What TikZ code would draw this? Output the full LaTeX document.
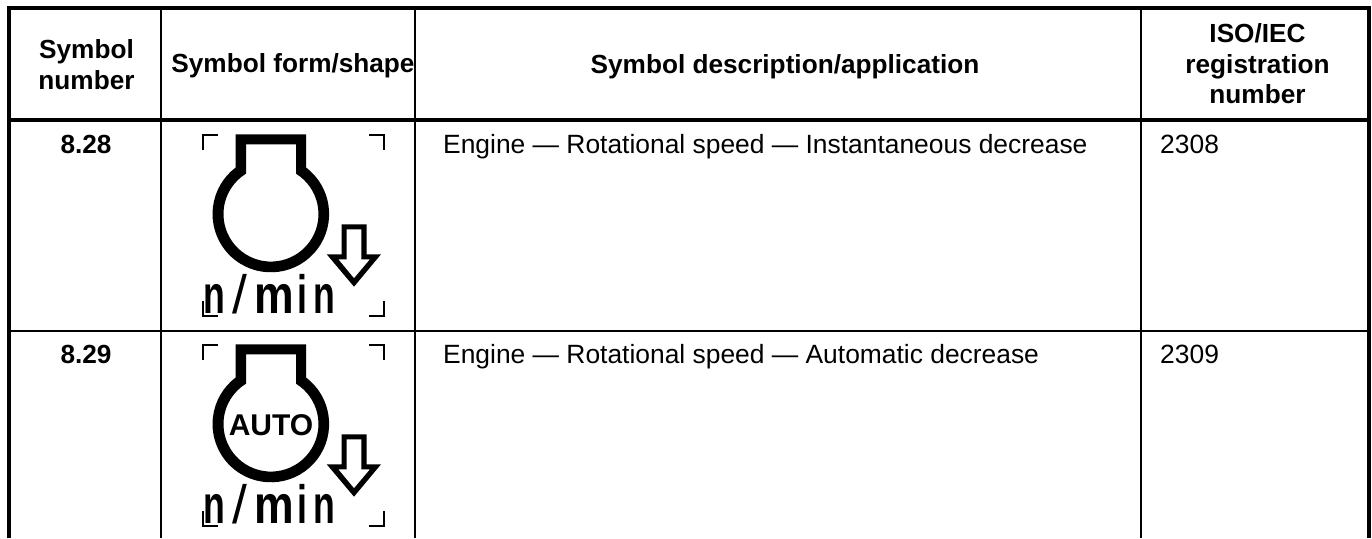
\documentclass[tikz,border=0pt]{standalone}
\usepackage{fontspec}
\setmainfont{Liberation Sans}
\newcommand{\symfont}[1]{\fontsize{#1}{#1}\selectfont}
\tikzset{
  thickrule/.style={line width=4pt,black},
  thinrule/.style={line width=2.4pt,black},
  cellhead/.style={font=\fontsize{26.2}{30.5}\selectfont\bfseries,align=center,text=black,inner sep=0pt},
  cellnum/.style={font=\fontsize{26.2}{30.5}\selectfont\bfseries,anchor=base,text=black,inner sep=0pt},
  celltext/.style={font=\fontsize{26.4}{30.5}\selectfont,anchor=base west,text=black,inner sep=0pt},
  cropmark/.style={line width=2pt,black,line cap=butt},
  symfill/.style={fill=black,draw=none,even odd rule},
  unitlabel/.style={font=\symfont{54}\bfseries,anchor=base west,inner sep=0pt,text=black,xscale=0.66},
  autolabel/.style={font=\symfont{30}\bfseries,inner sep=0pt,text=black},
}
% symbol drawn in reference pixels, y downward negated
\newcommand{\enginesymbol}[1]{%
  \draw[cropmark] (218,-135.3) -- (203.3,-135.3) -- (203.3,-150);
  \draw[cropmark] (369,-135.3) -- (383.7,-135.3) -- (383.7,-150);
  \draw[cropmark] (203.3,-301) -- (203.3,-315.7) -- (218,-315.7);
  \draw[cropmark] (369,-315.7) -- (383.7,-315.7) -- (383.7,-301);
  \fill[symfill]
    (235.7,-167.5) -- (235.7,-134.3) -- (306,-134.3) -- (306,-167.5)
      arc[start angle=52.9,end angle=-232.9,radius=58.3] -- cycle
    (246,-173.7) -- (246,-144.3) -- (296,-144.3) -- (296,-173.7)
      arc[start angle=58.2,end angle=-238.2,radius=47.5] -- cycle;
  \fill[symfill]
    (341.7,-224.3) -- (366.7,-224.3) -- (366.7,-254.3) -- (381,-254.3)
      -- (354,-286.7) -- (326.7,-254.3) -- (341.7,-254.3) -- cycle
    (346.7,-229.3) -- (361.3,-229.3) -- (361.3,-259.3) -- (370,-259.3)
      -- (354,-278.3) -- (338.3,-259.3) -- (346.7,-259.3) -- cycle;
  \node[unitlabel] (#1) at (203.5,-313.3) {n\kern10pt\scalebox{1.5}[1]{\mdseries /}\kern11pt\scalebox{1.25}[1]{m}\kern5pt i\kern10pt n};
}
\begin{document}
\begin{tikzpicture}[x=1pt,y=1pt]
\useasboundingbox (0,0) rectangle (1372,-538);
\fill[white] (0,0) rectangle (1372,-538);
% rules
\coordinate (tl) at (9,-8); \coordinate (tr) at (1369,-8);
\coordinate (bl) at (9,-538); \coordinate (br) at (1369,-538);
\coordinate (h1) at (9,-120); \coordinate (h2) at (1369,-120);
\coordinate (r1) at (9,-331); \coordinate (r2) at (1369,-331);
\draw[thickrule] (bl) -- (tl) -- (tr) -- (br);
\draw[thickrule] (h1) -- (h2);
\draw[thinrule] (r1) -- (r2);
\coordinate (c1t) at (161,-8); \coordinate (c1b) at (161,-538);
\coordinate (c2t) at (415,-8); \coordinate (c2b) at (415,-538);
\coordinate (c3t) at (1141,-8); \coordinate (c3b) at (1141,-538);
\draw[thinrule] (c1t) -- (c1b);
\draw[thinrule] (c2t) -- (c2b);
\draw[thinrule] (c3t) -- (c3b);
% header
\node[cellhead] (h-num) at (86.5,-64.5) {Symbol\\number};
\node[cellhead] (h-form) at (293,-66) {Symbol form/shape};
\node[cellhead] (h-desc) at (785,-67) {Symbol description/application};
\node[cellhead] (h-iso) at (1257.5,-64) {ISO/IEC\\registration\\number};
% row 1
\node[cellnum] (n1) at (86,-153.5) {8.28};
\node[celltext] (d1) at (443,-153.5) {Engine — Rotational speed — Instantaneous decrease};
\node[celltext] (i1) at (1160,-153.5) {2308};
\enginesymbol{u1}
% row 2
\node[cellnum] (n2) at (86,-363.5) {8.29};
\node[celltext] (d2) at (443,-363.5) {Engine — Rotational speed — Automatic decrease};
\node[celltext] (i2) at (1160,-363.5) {2309};
\begin{scope}[yshift=-210pt]
\enginesymbol{u2}
\node[autolabel] (auto) at (271,-215) {AUTO};
\end{scope}
\end{tikzpicture}
\end{document}
